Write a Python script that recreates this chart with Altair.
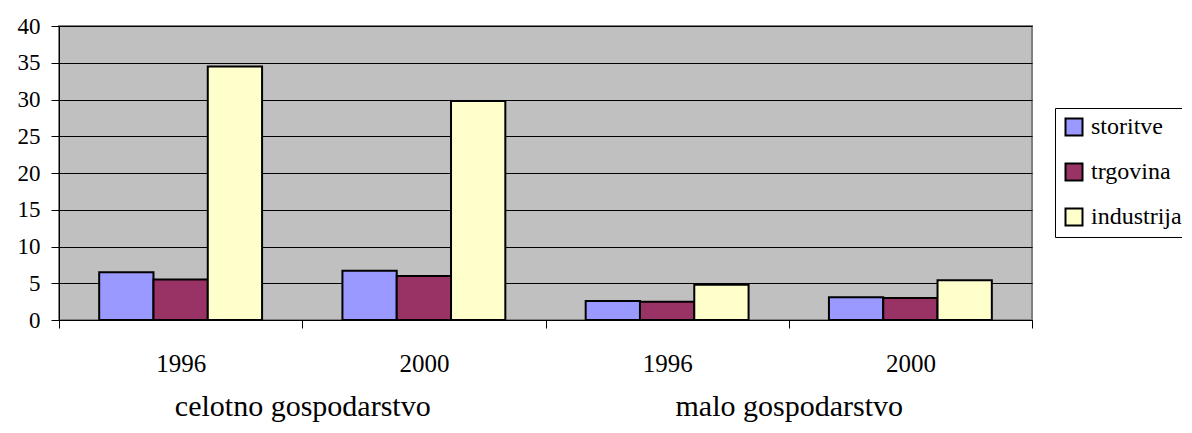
import altair as alt
import pandas as pd

groups = ["celotno gospodarstvo", "celotno gospodarstvo", "malo gospodarstvo", "malo gospodarstvo"]
years = ["1996", "2000", "1996", "2000"]
series = ["storitve", "trgovina", "industrija"]
storitve = [6.5, 6.7, 2.6, 3.1]
trgovina = [5.5, 6.0, 2.5, 3.0]
industrija = [34.5, 29.8, 4.8, 5.4]
colors = ["#9999FF", "#993366", "#FFFFCC"]
group_names = ["celotno gospodarstvo", "malo gospodarstvo"]

rows = []
for i in range(len(years)):
    key = f"{groups[i]}|{years[i]}"
    for s, vals in zip(series, [storitve, trgovina, industrija]):
        rows.append({"key": key, "series": s, "value": vals[i]})
df = pd.DataFrame(rows)
keys = [f"{g}|{y}" for g, y in zip(groups, years)]

FONT = "Liberation Serif"

bars = alt.Chart(df).mark_bar(stroke="black", strokeWidth=2).encode(
    x=alt.X("key:N", sort=keys, title=None,
            scale=alt.Scale(paddingInner=0, paddingOuter=0),
            axis=alt.Axis(labelExpr="split(datum.label, '|')[1]", labelAngle=0,
                          tickBand="extent", tickSize=8, tickColor="black",
                          domainColor="black", domainWidth=1, labelFontSize=25,
                          labelFont=FONT, labelColor="black", labelPadding=23,
                          grid=False)),
    xOffset=alt.XOffset("series:N", sort=series,
                        scale=alt.Scale(paddingOuter=0.74, paddingInner=0)),
    y=alt.Y("value:Q", title=None,
            scale=alt.Scale(domain=[0, 40], nice=False),
            axis=alt.Axis(values=list(range(0, 45, 5)), tickSize=8, tickColor="black",
                          domainColor="black", gridColor="black", gridWidth=1,
                          gridOpacity=1, labelFontSize=23, labelFont=FONT,
                          labelColor="black", labelPadding=11)),
    color=alt.Color("series:N", sort=series,
                    scale=alt.Scale(domain=series, range=colors),
                    legend=alt.Legend(title=None, orient="none", legendX=996, legendY=82,
                                      strokeColor="black", fillColor="white", padding=7,
                                      symbolType="square", symbolSize=289,
                                      symbolStrokeColor="black", symbolStrokeWidth=2,
                                      symbolOpacity=1, labelFont=FONT, labelFontSize=24,
                                      labelColor="black", rowPadding=19, labelOffset=5,
                                      labelLimit=0)),
)

gdf = pd.DataFrame({"group": group_names})
group_layer = alt.Chart(gdf).mark_point(opacity=0).encode(
    x=alt.X("group:N", sort=group_names, title=None,
            scale=alt.Scale(paddingInner=0, paddingOuter=0),
            axis=alt.Axis(labelAngle=0, ticks=False, domain=False, grid=False,
                          labelFontSize=30, labelFont=FONT, labelColor="black",
                          labelPadding=71, labelLimit=0, orient="bottom")),
)

chart = alt.layer(bars, group_layer).resolve_scale(x="independent").properties(
    width=973, height=294,
    autosize=alt.AutoSizeParams(type="none"),
    padding={"left": 51, "top": 18, "right": 150, "bottom": 108},
).configure(
    font=FONT, background="white"
).configure_axis(
    labelFont=FONT
).configure_legend(
    labelFont=FONT
).configure_view(
    fill="#C0C0C0", stroke="#808080", strokeWidth=2
)

chart.save("out.html", embed_options={"renderer": "svg", "actions": False})
